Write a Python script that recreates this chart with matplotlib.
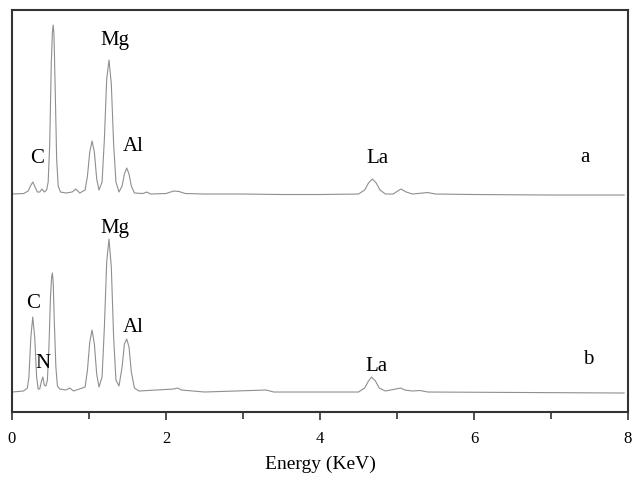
import numpy as np
import matplotlib.pyplot as plt
from matplotlib.ticker import MultipleLocator

plt.rcParams['font.family'] = ['Liberation Serif', 'DejaVu Serif']

# spectrum a (traced points, energy in keV, intensity a.u.)
energy_a = [0.0, 0.15, 0.21, 0.24, 0.27, 0.30, 0.33, 0.36, 0.39, 0.42, 0.45, 0.47, 0.49, 0.51,
            0.525, 0.535, 0.545, 0.56, 0.58, 0.60, 0.63, 0.7, 0.78, 0.83, 0.88, 0.95, 0.98, 1.01,
            1.04, 1.07, 1.10, 1.13, 1.17, 1.20, 1.23, 1.26, 1.29, 1.32, 1.35, 1.39, 1.43, 1.46,
            1.49, 1.52, 1.55, 1.59, 1.7, 1.75, 1.8, 2.0, 2.1, 2.17, 2.25, 2.5, 3.0, 3.5,
            4.0, 4.5, 4.58, 4.63, 4.68, 4.73, 4.78, 4.85, 4.95, 5.05, 5.12, 5.2, 5.4, 5.5,
            6.0, 7.0, 7.95]
counts_a = [0, 0.5, 3, 8, 12, 7, 2, 2, 5, 2, 4, 12, 50, 130,
            162, 169, 160, 110, 35, 8, 2, 1, 2, 5, 1, 4, 18, 42,
            53, 42, 15, 4, 12, 55, 115, 134, 110, 50, 12, 2, 8, 20,
            26, 20, 8, 1, 0.5, 2, 0, 0.5, 3, 2.5, 0.5, 0, 0, -0.5,
            -0.5, 0, 4, 11, 15, 11, 4, 0, 0, 5, 2, 0, 1.5, 0,
            -0.5, -1, -1]

# spectrum b
energy_b = [0.0, 0.15, 0.2, 0.22, 0.245, 0.27, 0.295, 0.32, 0.34, 0.36, 0.38, 0.40, 0.42, 0.44,
            0.46, 0.48, 0.50, 0.515, 0.525, 0.535, 0.55, 0.57, 0.59, 0.62, 0.7, 0.75, 0.8, 0.95,
            0.98, 1.01, 1.04, 1.07, 1.10, 1.13, 1.17, 1.20, 1.23, 1.26, 1.29, 1.32, 1.35, 1.39,
            1.43, 1.46, 1.49, 1.52, 1.55, 1.59, 1.65, 2.1, 2.15, 2.2, 2.5, 3.3, 3.4, 4.5,
            4.58, 4.63, 4.67, 4.72, 4.77, 4.85, 5.05, 5.1, 5.2, 5.3, 5.4, 7.95]
counts_b = [0, 1, 4, 15, 55, 75, 55, 15, 3, 3, 10, 15, 7, 6,
            12, 45, 95, 115, 119, 110, 70, 25, 6, 3, 2, 4, 1, 5,
            22, 50, 62, 48, 18, 5, 15, 65, 130, 153, 125, 55, 12, 6,
            25, 48, 53, 45, 20, 4, 1, 3, 4, 2, 0, 2, 0, 0,
            4, 11, 15, 11, 4, 1, 4, 2, 1, 1.5, 0, -1]

offset_a = 198

# peak labels: (text, energy, baseline height of the text)
labels_a = [('C', 0.325, 31), ('Mg', 1.34, 149), ('Al', 1.57, 43), ('La', 4.74, 31), ('a', 7.44, 32)]
labels_b = [('C', 0.27, 84), ('N', 0.40, 24), ('Mg', 1.34, 159), ('Al', 1.57, 60), ('La', 4.73, 21),
            ('b', 7.48, 28)]

fig = plt.figure(figsize=(6.34, 4.82), dpi=100)
ax = fig.add_axes([0.0189, 0.1452, 0.9716, 0.834])

ax.plot(energy_a, np.array(counts_a) + offset_a, color='#8f8f8f', lw=0.8)
ax.plot(energy_b, counts_b, color='#8f8f8f', lw=0.8)

for t, e, h in labels_a:
    ax.text(e, h + offset_a, t, fontsize=15, ha='center', va='baseline')
for t, e, h in labels_b:
    ax.text(e, h, t, fontsize=15, ha='center', va='baseline')

ax.set_xlim(0, 8)
ax.set_ylim(-20, 382)
ax.set_yticks([])
ax.xaxis.set_major_locator(MultipleLocator(2))
ax.xaxis.set_minor_locator(MultipleLocator(1))
ax.tick_params(axis='x', which='major', direction='out', length=6, width=1.2, labelsize=12, pad=8,
               color='#333333')
ax.tick_params(axis='x', which='minor', direction='out', length=5, width=1.2, color='#333333')
for s in ax.spines.values():
    s.set_linewidth(1.5)
    s.set_color('#333333')
ax.set_xlabel('Energy (KeV)', fontsize=14, labelpad=6)

fig.savefig('out.png', dpi=100)
